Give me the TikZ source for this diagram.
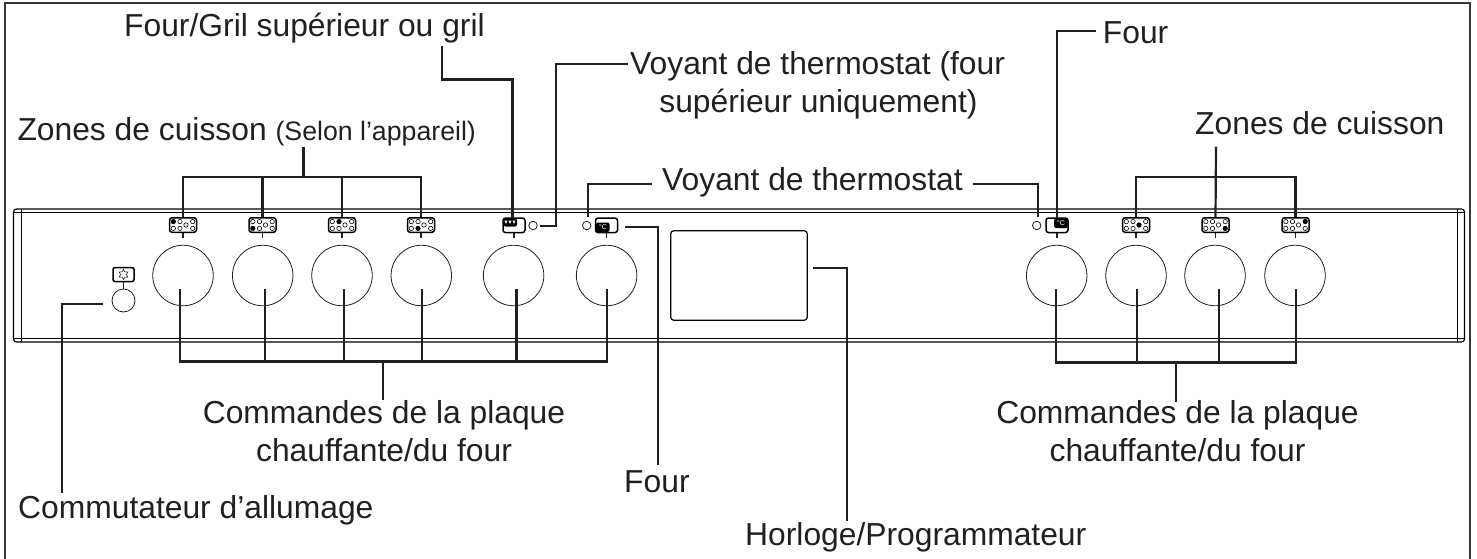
\documentclass[tikz,border=0pt]{standalone}
\usepackage{fontspec}
\setmainfont{Liberation Sans}
\usepackage{tikz}
\usetikzlibrary{calc,shapes.geometric}

\definecolor{inkc}{HTML}{231F20}
\tikzset{
  leader/.style={draw=inkc, line width=2.2pt},
  lab/.style={text=inkc, inner sep=0pt, font=\fontsize{31.8}{37.5}\selectfont},
  knob/.style={circle, draw=inkc, line width=0.8pt, inner sep=0pt, minimum size=60.5pt},
  lamp/.style={circle, draw=inkc, line width=0.8pt, inner sep=0pt, minimum size=8.5pt},
  hobicon/.style={rectangle, rounded corners=2.5pt, draw=black, line width=1.5pt, inner sep=0pt, minimum width=27pt, minimum height=14.5pt},
  ovenicon/.style={rectangle, rounded corners=2.5pt, draw=black, line width=1.5pt, inner sep=0pt, minimum width=22pt, minimum height=14.5pt},
  hole/.style={circle, draw=black, line width=0.6pt, fill=white, inner sep=0pt, minimum size=4.4pt},
  stalk/.style={draw=inkc, line width=1.1pt}
}
% hob symbol: name, centre, offset of the filled hole
\newcommand{\hobsym}[4]{%
  \node[hobicon] (#1) at (#2,225) {};
  \foreach \hx/\hy in {-9.7/-3.4,-3/-3.4,-9.7/3.4,-3/3.4,3/0,9.7/-3.4,9.7/3.4}
    \node[hole] at ($(#1)+(\hx,\hy)$) {};
  \fill[black] ($(#1)+(#3,#4)$) circle (2.4pt);
  \draw[stalk] (#1.south) -- ++(0,5);
}

\begin{document}
\begin{tikzpicture}[x=1pt,y=-1pt]
\useasboundingbox (0,0) rectangle (1477,559);

% outer frame
\draw[draw=inkc!90!white, line width=2.4pt] (5,559) -- (5,3.3) -- (1470,3.3) -- (1470,559);

% panel
\draw[draw=black, line width=1.2pt, rounded corners=3pt] (13.5,209) rectangle (1464.5,342);
\draw[draw=black, line width=0.7pt] (13.5,212.5) -- (1464.5,212.5);
\draw[draw=black, line width=0.7pt] (13.5,338) -- (1464.5,338);
\draw[draw=black, line width=0.7pt] (21,209) -- (21,342);
\draw[draw=black, line width=0.7pt] (1457,209) -- (1457,342);

% knobs
\foreach \nm/\kx in {K1/183,K2/262.7,K3/342,K4/421.3,K5/513.6,K6/606.6,K7/1056.7,K8/1136,K9/1215,K10/1295}
  \node[knob] (\nm) at (\kx,275.5) {};
\node[circle, draw=inkc, line width=0.8pt, inner sep=0pt, minimum size=23pt] (sw) at (123.5,300.5) {};

% hob symbols
\hobsym{H1}{183}{-9.7}{-3.4}
\hobsym{H2}{262.5}{-9.7}{3.4}
\hobsym{H3}{342}{-3}{-3.4}
\hobsym{H4}{421}{-3}{3.4}
\hobsym{H7}{1136}{3}{0}
\hobsym{H8}{1215.5}{9.7}{3.4}
\hobsym{H9}{1295.5}{9.7}{-3.4}

% ignition symbol
\node[rectangle, rounded corners=2pt, draw=black, line width=1.5pt, inner sep=0pt, minimum width=21pt, minimum height=14pt] (ig) at (123.5,274.5) {};
\node[star, star points=6, star point ratio=1.7, draw=black, line width=0.5pt, inner sep=0pt, minimum size=10pt] (igs) at (123.5,274.5) {};
\draw[stalk] (ig.south) -- (sw.north);

% oven symbols
\node[ovenicon] (H5) at (514,225.3) {};
\fill[black, rounded corners=2pt] (503.5,218.5) rectangle (517,226.5);
\foreach \zx in {506,510,514}
  \fill[white] (\zx-1.5,220.5) -- (\zx+1.5,220.5) -- (\zx,224) -- cycle;
\draw[stalk] (H5.south) -- ++(0,5);

\node[ovenicon] (H6) at (606.5,225.3) {};
\fill[black, rounded corners=2pt] (596,222.5) rectangle (609.5,232);
\node[text=white, inner sep=0pt, font=\fontsize{7}{7}\selectfont] (T6) at (603,227.5) {°C};
\draw[stalk] (606.5,232.5) -- (606.5,238);

\node[ovenicon] (H10) at (1057,225.3) {};
\fill[black, rounded corners=2pt] (1054,218.5) rectangle (1068,228);
\node[text=white, inner sep=0pt, font=\fontsize{7}{7}\selectfont] (T10) at (1061,223.5) {°C};
\draw[stalk] (H10.south) -- ++(0,5);

% lamps
\node[lamp] (L1) at (533,225.5) {};
\node[lamp] (L2) at (586.7,225.5) {};
\node[lamp] (L3) at (1036.7,225.5) {};

% clock
\node[rectangle, rounded corners=3pt, draw=black, line width=1.2pt, inner sep=0pt, minimum width=136.5pt, minimum height=89.5pt] (clock) at (739,275.5) {};

% labels
\node[lab, anchor=base west] (fg) at (124,36.7) {Four/Gril supérieur ou gril};
\node[lab, anchor=base west] (zl) at (17.3,140.7) {Zones de cuisson \fontsize{26.7}{30}\selectfont(Selon l’appareil)};
\node[lab, anchor=base west] (vs1) at (630,75) {Voyant de thermostat (four};
\node[lab, anchor=base] (vs2) at (818.5,112.7) {supérieur uniquement)};
\node[lab, anchor=base west] (vt) at (662,190) {Voyant de thermostat};
\node[lab, anchor=base west] (fr) at (1102.7,43.3) {Four};
\node[lab, anchor=base west] (zr) at (1195,135) {Zones de cuisson};
\node[lab, anchor=base] (cl1) at (384,423.3) {Commandes de la plaque};
\node[lab, anchor=base] (cl2) at (384,461) {chauffante/du four};
\node[lab, anchor=base] (cr1) at (1177.5,423.3) {Commandes de la plaque};
\node[lab, anchor=base] (cr2) at (1177.5,461) {chauffante/du four};
\node[lab, anchor=base west] (ca) at (18,518) {Commutateur d’allumage};
\node[lab, anchor=base west] (fb) at (624,492.7) {Four};
\node[lab, anchor=base west] (hp) at (745,545) {Horloge/Programmateur};

% leaders, hob zones left
\coordinate (zlb) at (303.5,177);
\coordinate (zls) at (303.5,147);
\draw[leader] (H1.north) |- (H4.north |- zlb) -- (H4.north);
\draw[leader] (H2.north) -- (H2.north |- zlb);
\draw[leader] (H3.north) -- (H3.north |- zlb);
\draw[leader] (zls) -- (zlb);

% leaders, hob zones right
\coordinate (zrb) at (1216,177);
\coordinate (zrs) at (1216,146.7);
\draw[leader] (H7.north) |- (H9.north |- zrb) -- (H9.north);
\draw[leader] (H8.north) -- (zrs);

% leaders, controls left
\coordinate (cb) at (180,361.5);
\coordinate (c1) at (180,289);
\coordinate (c2) at (265,289);
\coordinate (c3) at (344.3,289);
\coordinate (c4) at (421.7,289);
\coordinate (c5) at (516.4,289);
\coordinate (c6) at (606.7,289);
\coordinate (cs) at (383,361.5);
\coordinate (ce) at (383,400);
\draw[leader] (c1) |- (c6 |- cb) -- (c6);
\foreach \cc in {c2,c3,c4,c5}
  \draw[leader] (\cc) -- (\cc |- cb);
\draw[leader] (cs) -- (ce);

% leaders, controls right
\coordinate (db) at (1056,362.5);
\coordinate (d7) at (1056,289);
\coordinate (d8) at (1137,289);
\coordinate (d9) at (1218.7,289);
\coordinate (d10) at (1296,289);
\coordinate (ds) at (1176,362.5);
\coordinate (de) at (1176,401.5);
\draw[leader] (d7) |- (d10 |- db) -- (d10);
\foreach \cc in {d8,d9}
  \draw[leader] (\cc) -- (\cc |- db);
\draw[leader] (ds) -- (de);

% leaders, single ones
\coordinate (a1) at (103,304);
\coordinate (a2) at (62,304);
\coordinate (a3) at (62,492.5);
\draw[leader] (a1) -- (a2) -- (a3);

\coordinate (b1) at (441.7,46.5);
\coordinate (b2) at (441.7,79.5);
\coordinate (b3) at (512.5,79.5);
\coordinate (b4) at (512.5,218);
\draw[leader] (b1) -- (b2) -- (b3) -- (b4);

\coordinate (e1) at (540,226);
\coordinate (e2) at (556.3,226);
\coordinate (e3) at (556.3,64);
\coordinate (e4) at (628,64);
\draw[leader] (e1) -- (e2) -- (e3) -- (e4);

\coordinate (f1) at (652,184);
\coordinate (f2) at (588,184);
\coordinate (f3) at (588,216.7);
\draw[leader] (f1) -- (f2) -- (f3);
\coordinate (g1) at (973,184);
\coordinate (g2) at (1038,184);
\coordinate (g3) at (1038,216.7);
\draw[leader] (g1) -- (g2) -- (g3);

\coordinate (m1) at (1096,31);
\coordinate (m2) at (1056.7,31);
\coordinate (m3) at (1056.7,218);
\draw[leader] (m1) -- (m2) -- (m3);

\coordinate (n1) at (625,227);
\coordinate (n2) at (658.3,227);
\coordinate (n3) at (658.3,465);
\draw[leader] (n1) -- (n2) -- (n3);

\coordinate (q1) at (813.3,268.3);
\coordinate (q2) at (846.7,268.3);
\coordinate (q3) at (846.7,521);
\draw[leader] (q1) -- (q2) -- (q3);
\end{tikzpicture}
\end{document}
